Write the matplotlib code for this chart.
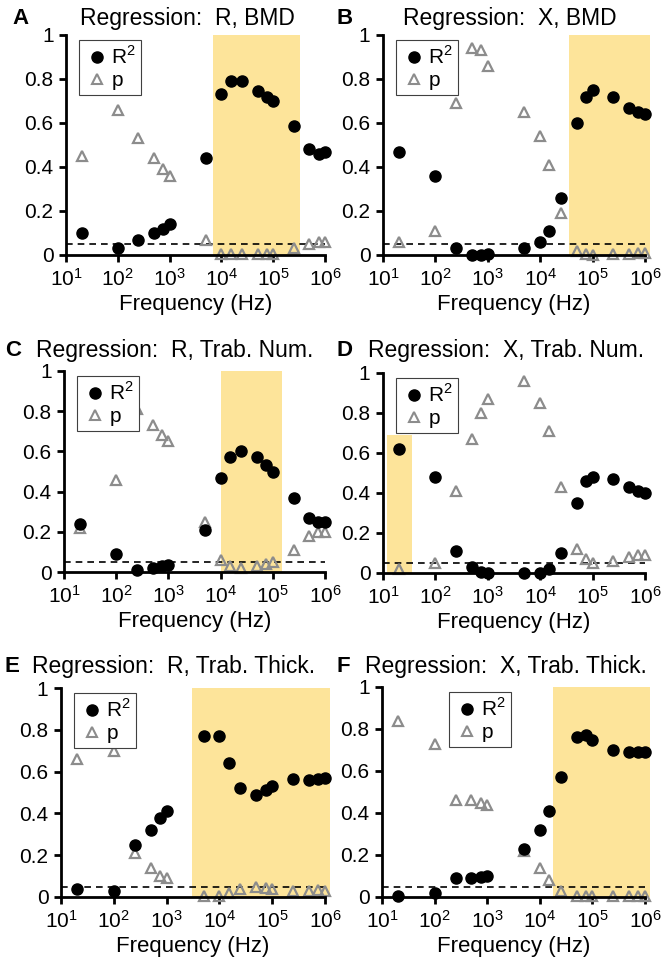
import matplotlib
matplotlib.use("Agg")
import matplotlib.pyplot as plt
from matplotlib.lines import Line2D
from matplotlib.ticker import FixedLocator, LogFormatterSciNotation, NullLocator

plt.rcParams["font.family"] = ["Liberation Sans", "DejaVu Sans"]
plt.rcParams["mathtext.fontset"] = "custom"
plt.rcParams["mathtext.rm"] = "Liberation Sans"

# frequencies (Hz) shared by all panels
freq = [20, 100, 250, 500, 750, 1000, 5000, 10000, 15000, 25000,
        50000, 75000, 100000, 250000, 500000, 750000, 1000000]

r2_a = [0.10, 0.03, 0.07, 0.10, 0.12, 0.14, 0.44, 0.73, 0.79, 0.79,
        0.745, 0.72, 0.70, 0.585, 0.48, 0.46, 0.47]
p_a = [0.45, 0.66, 0.53, 0.44, 0.39, 0.36, 0.07, 0.005, 0.005, 0.005,
       0.005, 0.005, 0.005, 0.03, 0.05, 0.06, 0.06]

r2_b = [0.47, 0.36, 0.03, 0.0, 0.0, 0.005, 0.03, 0.06, 0.11, 0.26,
        0.60, 0.72, 0.75, 0.72, 0.67, 0.65, 0.64]
p_b = [0.06, 0.11, 0.69, 0.94, 0.93, 0.86, 0.65, 0.54, 0.41, 0.19,
       0.02, 0.005, 0.0, 0.005, 0.005, 0.01, 0.01]

r2_c = [0.24, 0.09, 0.01, 0.02, 0.03, 0.035, 0.21, 0.47, 0.57, 0.60,
        0.57, 0.53, 0.50, 0.37, 0.27, 0.25, 0.25]
p_c = [0.22, 0.46, 0.81, 0.73, 0.68, 0.65, 0.25, 0.06, 0.03, 0.02,
       0.03, 0.04, 0.05, 0.11, 0.18, 0.20, 0.20]

r2_d = [0.62, 0.48, 0.11, 0.03, 0.005, 0.0, 0.0, 0.0, 0.02, 0.10,
        0.35, 0.46, 0.48, 0.47, 0.43, 0.41, 0.40]
p_d = [0.02, 0.05, 0.41, 0.67, 0.80, 0.87, 0.96, 0.85, 0.71, 0.43,
       0.12, 0.07, 0.05, 0.06, 0.08, 0.09, 0.09]

r2_e = [0.04, 0.03, 0.25, 0.32, 0.38, 0.41, 0.77, 0.77, 0.64, 0.52,
        0.49, 0.51, 0.53, 0.565, 0.56, 0.565, 0.57]
p_e = [0.66, 0.70, 0.21, 0.14, 0.10, 0.09, 0.005, 0.005, 0.02, 0.04,
       0.05, 0.045, 0.04, 0.03, 0.03, 0.035, 0.03]

r2_f = [0.005, 0.02, 0.09, 0.09, 0.095, 0.10, 0.23, 0.32, 0.41, 0.57,
        0.76, 0.77, 0.75, 0.70, 0.69, 0.69, 0.69]
p_f = [0.84, 0.73, 0.46, 0.46, 0.45, 0.44, 0.22, 0.14, 0.08, 0.03,
       0.005, 0.005, 0.005, 0.005, 0.005, 0.005, 0.005]

letters = ["A", "B", "C", "D", "E", "F"]
titles = ["Regression:  R, BMD", "Regression:  X, BMD",
          "Regression:  R, Trab. Num.", "Regression:  X, Trab. Num.",
          "Regression:  R, Trab. Thick.", "Regression:  X, Trab. Thick."]
r2_all = [r2_a, r2_b, r2_c, r2_d, r2_e, r2_f]
p_all = [p_a, p_b, p_c, p_d, p_e, p_f]
# highlighted frequency band (x0, x1, top)
bands = [(7e3, 3.3e5, 1.0), (3.5e4, 1.25e6, 1.0), (1e4, 1.5e5, 1.0),
         (12, 35, 0.69), (3e3, 1.25e6, 1.0), (1.8e4, 1.25e6, 1.0)]
p_thresh = 0.05

W, H = 661, 968
# axes boxes in pixels: left, right, top, bottom
boxes = [(66, 325, 35, 255), (383, 645, 35, 255),
         (64, 325, 371, 572), (383, 645, 373, 573),
         (61, 325, 688, 897), (382, 645, 687, 897)]
legend_x = [0.03, 0.03, 0.03, 0.03, 0.03, 0.235]
# title placement in pixels: title centre x, letter left x, row centre y
title_cx = [187, 510, 175, 506, 174, 506]
letter_x = [12, 337, 5, 337, 5, 337]
title_y = [18, 18, 350, 350, 667, 667]

fig = plt.figure(figsize=(W / 100, H / 100), dpi=100)

for i in range(6):
    l, r, t, b = boxes[i]
    ax = fig.add_axes([l / W, 1 - b / H, (r - l) / W, (b - t) / H])
    x0, x1, top = bands[i]
    ax.fill_between([x0, x1], 0, top, color="#fde49a", lw=0, clip_on=False, zorder=0)
    ax.axhline(p_thresh, color="black", lw=1.2, ls=(0, (4, 3)), zorder=1)
    ax.plot(freq, r2_all[i], "o", ms=8, color="black", zorder=3, clip_on=False)
    ax.plot(freq, p_all[i], "^", ms=7.5, mfc="none", mec="#8c8c8c", mew=1.6,
            zorder=2, clip_on=False)
    ax.set_xscale("log")
    ax.set_xlim(10, 1e6)
    ax.set_ylim(0, 1)
    ax.xaxis.set_major_locator(FixedLocator([1e1, 1e2, 1e3, 1e4, 1e5, 1e6]))
    ax.xaxis.set_major_formatter(LogFormatterSciNotation())
    ax.xaxis.set_minor_locator(NullLocator())
    ax.set_yticks([0, 0.2, 0.4, 0.6, 0.8, 1])
    ax.set_yticklabels(["0", "0.2", "0.4", "0.6", "0.8", "1"])
    ax.tick_params(labelsize=15, width=2, length=5, direction="out", pad=4)
    ax.spines["top"].set_visible(False)
    ax.spines["right"].set_visible(False)
    ax.spines["left"].set_linewidth(2)
    ax.spines["bottom"].set_linewidth(2)
    ax.set_xlabel("Frequency (Hz)", fontsize=16, labelpad=3)

    handles = [Line2D([], [], marker="o", ls="none", color="black", ms=8),
               Line2D([], [], marker="^", ls="none", mfc="none", mec="#8c8c8c",
                      mew=1.5, ms=7.5)]
    leg = ax.legend(handles, ["R$^2$", "p"], loc="upper left",
                    bbox_to_anchor=(legend_x[i], 1.0), fontsize=15,
                    frameon=True, fancybox=False, framealpha=1,
                    handletextpad=0.1, handlelength=1.2, borderpad=0.25,
                    labelspacing=0.15, borderaxespad=0.25)
    leg.get_frame().set_edgecolor("#404040")
    leg.get_frame().set_linewidth(0.8)

    fig.text(title_cx[i] / W, 1 - title_y[i] / H, titles[i], fontsize=16.5,
             ha="center", va="center")
    fig.text(letter_x[i] / W, 1 - title_y[i] / H, letters[i], fontsize=16,
             fontweight="bold", ha="left", va="center")

fig.savefig("out.png", dpi=100)
